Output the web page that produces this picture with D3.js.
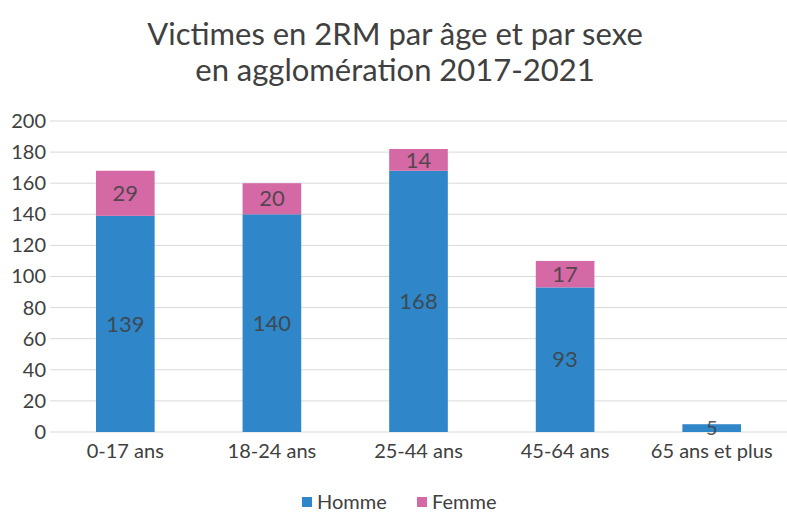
<!DOCTYPE html>
<html><head><meta charset="utf-8">
<script src="https://cdn.jsdelivr.net/npm/d3@7"></script>
<style>body{margin:0;background:#fff}svg{display:block}</style>
</head><body>
<script>
const categories = ["0-17 ans","18-24 ans","25-44 ans","45-64 ans","65 ans et plus"];
const homme = [139,140,168,93,5];
const femme = [29,20,14,17,0];
const yTicks = [0,20,40,60,80,100,120,140,160,180,200];
const seriesNames = ["Homme","Femme"];
const colors = ["#2f86c8","#d569a6"];
const titleLines = ["Victimes en 2RM par âge et par sexe","en agglomération 2017-2021"];

const W=787,H=513;
const svg=d3.select("body").append("svg").attr("width",W).attr("height",H);
const font="Lato, 'Open Sans', sans-serif";
const x=d3.scaleBand().domain(categories).range([52,785]).paddingInner(0.6).paddingOuter(0.3);
const y=d3.scaleLinear().domain([0,200]).range([432,121]);

// title
svg.selectAll("text.title").data(titleLines).join("text").attr("class","title")
 .attr("x",395).attr("y",(d,i)=>45+i*36).attr("text-anchor","middle")
 .attr("font-family",font).attr("font-size",31).attr("fill","#404040").text(d=>d);

// grid
svg.append("g").selectAll("line").data(yTicks).join("line")
 .attr("x1",50).attr("x2",787).attr("y1",d=>y(d)).attr("y2",d=>y(d))
 .attr("stroke","#d9d9d9").attr("stroke-width",1);

// y axis
const ya=svg.append("g").attr("transform","translate(46,0)").call(d3.axisLeft(y).tickValues(yTicks).tickSize(0).tickPadding(0));
ya.select(".domain").remove();
ya.selectAll("text").attr("font-family",font).attr("font-size",20).attr("fill","#404040");

// x axis
const xa=svg.append("g").attr("transform","translate(0,432)").call(d3.axisBottom(x).tickSize(0).tickPadding(12));
xa.select(".domain").remove();
xa.selectAll("text").attr("font-family",font).attr("font-size",20).attr("fill","#404040");

// stacked data
const rows=categories.map((c,i)=>({cat:c,Homme:homme[i],Femme:femme[i]}));
const stack=d3.stack().keys(seriesNames)(rows);
const g=svg.append("g");
stack.forEach((s,si)=>{
  g.selectAll("rect.s"+si).data(s).join("rect").attr("class","s"+si)
   .attr("x",d=>x(d.data.cat)).attr("width",x.bandwidth())
   .attr("y",d=>y(d[1])).attr("height",d=>y(d[0])-y(d[1]))
   .attr("fill",colors[si]);
  g.selectAll("text.l"+si).data(s.filter(d=>d[1]-d[0]>0)).join("text").attr("class","l"+si)
   .attr("x",d=>x(d.data.cat)+x.bandwidth()/2).attr("y",d=>(y(d[0])+y(d[1]))/2)
   .attr("dy","0.35em").attr("text-anchor","middle")
   .attr("font-family",font).attr("font-size",d=>d[1]-d[0]<10?20:22).attr("fill","#404040").attr("opacity",0.85)
   .text(d=>d[1]-d[0]);
});

// legend
const lg=svg.append("g");
const lx=[302,417];
seriesNames.forEach((n,i)=>{
  lg.append("rect").attr("x",lx[i]).attr("y",497).attr("width",10).attr("height",10).attr("fill",colors[i]);
  lg.append("text").attr("x",lx[i]+15).attr("y",502).attr("dy","0.35em")
   .attr("font-family",font).attr("font-size",20).attr("fill","#404040").text(n);
});
</script>
</body></html>
